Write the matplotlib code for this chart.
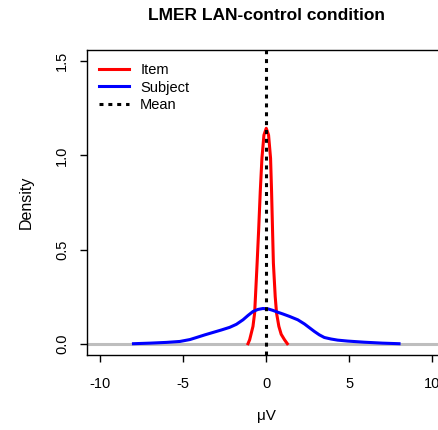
import matplotlib
matplotlib.use("Agg")
import matplotlib.pyplot as plt

plt.rcParams["font.family"] = ["Liberation Sans", "DejaVu Sans"]

# Kernel density estimates of the random-effect adjustments (microvolts)
item_x = [-1.1, -1.0, -0.8, -0.7, -0.65, -0.55, -0.46, -0.36, -0.26, -0.14, 0.0,
          0.14, 0.26, 0.32, 0.38, 0.43, 0.54, 0.62, 0.76, 0.9, 1.1, 1.27]
item_y = [0.0, 0.021, 0.092, 0.163, 0.25, 0.428, 0.60, 0.81, 0.985, 1.108, 1.144,
          1.108, 0.985, 0.81, 0.60, 0.428, 0.25, 0.163, 0.092, 0.05, 0.021, 0.0]

subject_x = [-8.0, -7.0, -6.0, -5.2, -4.6, -4.2, -3.7, -3.2, -2.7, -2.2, -1.8,
             -1.4, -1.1, -0.8, -0.5, -0.2, 0.1, 0.4, 0.7, 1.0, 1.4, 1.9, 2.3,
             2.6, 2.9, 3.2, 3.5, 3.9, 4.3, 4.9, 5.9, 7.0, 8.0]
subject_y = [0.0, 0.003, 0.007, 0.012, 0.022, 0.033, 0.047, 0.06, 0.073, 0.087,
             0.103, 0.127, 0.15, 0.171, 0.182, 0.187, 0.185, 0.177, 0.167,
             0.158, 0.145, 0.127, 0.105, 0.085, 0.065, 0.047, 0.033, 0.025,
             0.019, 0.014, 0.008, 0.003, 0.0]

mean_value = 0.0

x_ticks = [-10, -5, 0, 5, 10]
y_ticks = [0.0, 0.5, 1.0, 1.5]
y_tick_labels = ["0.0", "0.5", "1.0", "1.5"]

fig = plt.figure(figsize=(4.38, 4.30), dpi=100)
ax = fig.add_axes([87 / 438, 75 / 430, (445.5 - 87) / 438, (355 - 50) / 430])

ax.axhline(0, color="#BEBEBE", lw=2.2, zorder=1)
ax.plot(item_x, item_y, color="red", lw=2.2, label="Item", zorder=3,
        solid_joinstyle="round")
ax.plot(subject_x, subject_y, color="blue", lw=2.2, label="Subject", zorder=3,
        solid_joinstyle="round")
ax.axvline(mean_value, color="black", lw=2.2, linestyle=(0, (1.3, 1.6)),
           dash_capstyle="butt", label="Mean", zorder=4)

ax.set_xlim(-10.8, 10.8)
ax.set_ylim(-0.06, 1.56)
ax.set_xticks(x_ticks)
ax.set_xticklabels([str(v) for v in x_ticks])
ax.set_yticks(y_ticks)
ax.set_yticklabels(y_tick_labels, rotation=90, va="center")

ax.tick_params(axis="both", direction="out", length=5, width=1, labelsize=10.5,
               color="black")
ax.tick_params(axis="x", pad=10.5)
ax.tick_params(axis="y", pad=8)
for s in ax.spines.values():
    s.set_linewidth(1)
    s.set_color("black")

ax.set_xlabel("\u03bcV", fontsize=11, labelpad=13)
ax.set_ylabel("Density", fontsize=11.5, labelpad=15)

fig.text(266 / 438, 1 - 15 / 430, "LMER LAN-control condition",
         ha="center", va="center", fontsize=12.5, fontweight="bold")

leg = ax.legend(loc="upper left", bbox_to_anchor=(0.01, 0.985), frameon=False,
                fontsize=10.5, handlelength=2.0, handletextpad=0.8,
                labelspacing=0.22, borderaxespad=0.2)

fig.savefig("out.png", dpi=100)
